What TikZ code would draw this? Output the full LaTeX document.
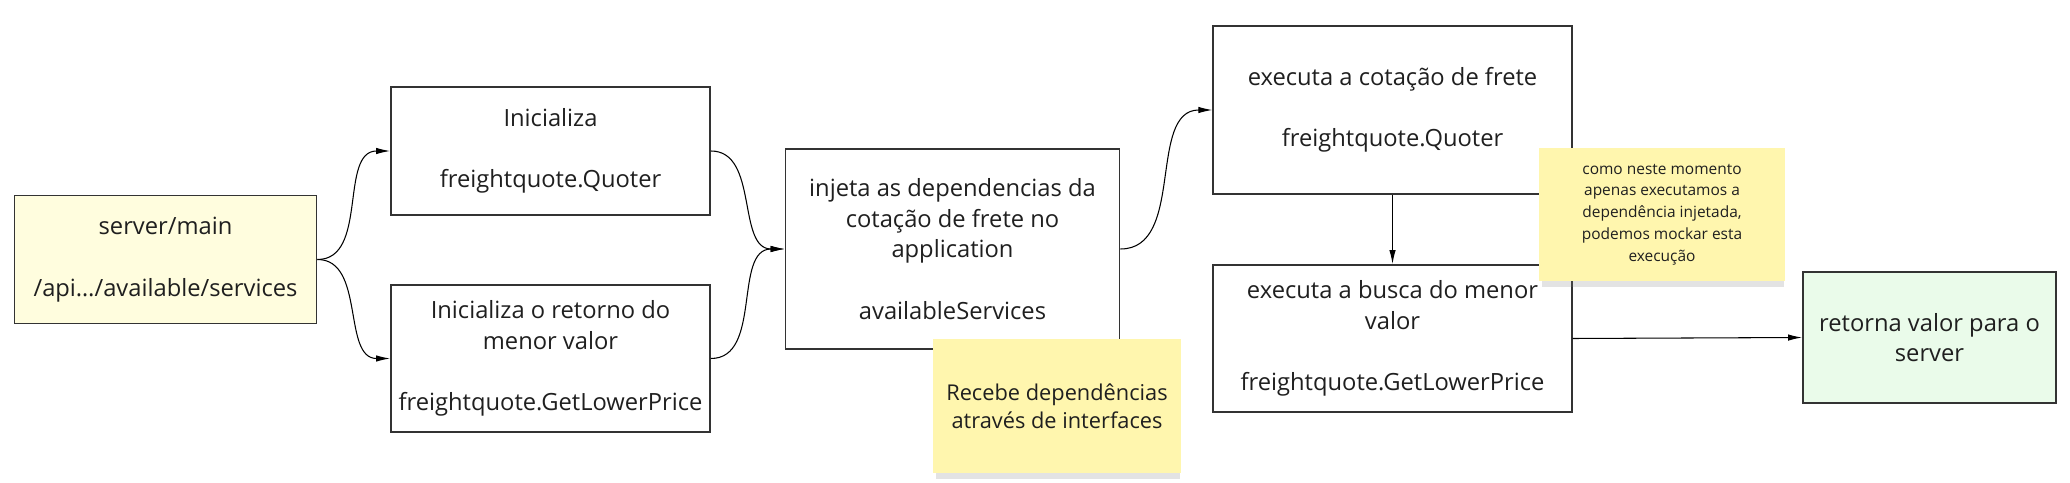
\documentclass[tikz,border=0pt]{standalone}
\usepackage{fontspec}
\setmainfont{Open Sans}
\usetikzlibrary{arrows.meta,shadows}

\definecolor{servfill}{HTML}{FFFDDE}
\definecolor{notefill}{HTML}{FFF6AE}
\definecolor{retfill}{HTML}{EAFBEA}
\definecolor{boxline}{HTML}{333333}

\tikzset{
	box/.style={draw=boxline, line width=1.1pt, align=center, inner sep=0pt, text=black!88,
		font=\fontsize{13.5}{17.5}\selectfont},
	note/.style={fill=notefill, align=center, inner sep=0pt, text=black!88,
		drop shadow={shadow xshift=.02cm, shadow yshift=-.16cm, shadow scale=.98, opacity=.22}},
	link/.style={line width=.6pt, -{Latex[length=.28cm,width=.13cm]}}
}

\begin{document}
\begin{tikzpicture}
	\useasboundingbox (0,0) rectangle (41.4,9.64);
	
	\node[box, fill=servfill, minimum width=6.04cm, minimum height=2.56cm] (server) at (3.31,4.45)
		{server/main\\[17.5pt]/api…/available/services};
	\node[box, minimum width=6.38cm, minimum height=2.55cm] (init1) at (11.01,6.62)
		{Inicializa\\[17.5pt]freightquote.Quoter};
	\node[box, minimum width=6.38cm, minimum height=2.94cm] (init2) at (11.01,2.47)
		{Inicializa o retorno do\\menor valor\\[17.5pt]freightquote.GetLowerPrice};
	\node[box, minimum width=6.68cm, minimum height=3.99cm] (inject) at (19.05,4.66)
		{injeta as dependencias da\\cotação de frete no\\application\\[17.5pt]availableServices};
	\node[box, minimum width=7.17cm, minimum height=3.35cm] (quote) at (27.85,7.44)
		{executa a cotação de frete\\[17.5pt]freightquote.Quoter};
	\node[box, minimum width=7.17cm, minimum height=2.94cm] (lower) at (27.85,2.87)
		{executa a busca do menor\\valor\\[17.5pt]freightquote.GetLowerPrice};
	\node[box, fill=retfill, minimum width=5.06cm, minimum height=2.61cm] (ret) at (38.59,2.89)
		{retorna valor para o\\server};
	
	\draw[link] (server.east) to[out=0,in=180] (init1.west);
	\draw[link] (server.east) to[out=0,in=180] (init2.west);
	\draw[link] (init1.east) to[out=0,in=180] (inject.west);
	\draw[link] (init2.east) to[out=0,in=180] (inject.west);
	\draw[link] (inject.east) to[out=0,in=180] (quote.west);
	\draw[link] (quote.south) -- (lower.north);
	\draw[link] (lower.east) -- (ret.west);
	
	\node[note, minimum width=4.96cm, minimum height=2.67cm, font=\fontsize{12.4}{16}\selectfont] (note1) at (21.14,1.52)
		{Recebe dependências\\através de interfaces};
	\node[note, minimum width=4.92cm, minimum height=2.65cm, font=\fontsize{8.8}{12.4}\selectfont] (note2) at (33.24,5.35)
		{como neste momento\\apenas executamos a\\dependência injetada,\\podemos mockar esta\\execução};
	
\end{tikzpicture}
\end{document}
